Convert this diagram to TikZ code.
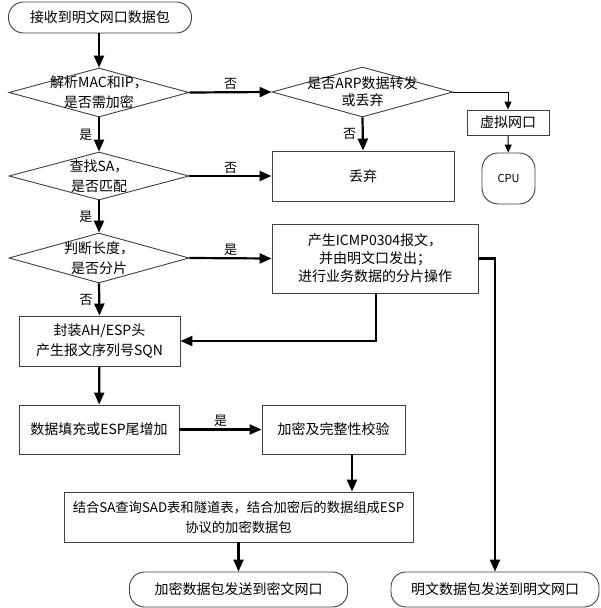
\documentclass[tikz,border=0pt]{standalone}
\usepackage{fontspec}
\setmainfont{Noto Sans CJK SC}
\usetikzlibrary{arrows.meta,shapes.geometric}
\begin{document}
\begin{tikzpicture}[x=1pt,y=-1pt,
  font=\fontsize{14}{20}\selectfont,
  box/.style={draw=black!75, line width=0.9pt, rectangle, inner sep=0pt, align=center},
  dia/.style={draw=black!75, line width=0.9pt, diamond, inner sep=0pt},
  term/.style={draw=black!75, line width=0.9pt, rectangle, rounded corners=15pt, inner sep=0pt, align=center},
  dtext/.style={inner sep=0pt, align=center},
  arr/.style={line width=2.2pt, -{Triangle[length=12pt,width=10pt]}},
  thinarr/.style={line width=0.9pt, -{Triangle[length=8pt,width=7pt]}},
  lbl/.style={inner sep=1.5pt, font=\fontsize{13}{15}\selectfont}]
\path[use as bounding box, fill=white] (0,0) rectangle (601,608);

% nodes
\node[term, minimum width=183, minimum height=31] (start) at (100,17.5) {接收到明文网口数据包};
\node[dia, minimum width=180, minimum height=49] (d1) at (99,92.5) {};
\node[dtext] at (d1) {解析MAC和IP，\\是否需加密};
\node[dia, minimum width=181, minimum height=50] (arp) at (362.5,92) {};
\node[dtext, font=\fontsize{14}{17}\selectfont] at (arp) {是否ARP数据转发\\或丢弃};
\node[box, minimum width=82, minimum height=25] (vport) at (508,122.5) {虚拟网口};
\node[term, rounded corners=16pt, minimum width=53, minimum height=51, font=\fontsize{11}{13}\selectfont] (cpu) at (508.5,178.5) {CPU};
\node[box, minimum width=182, minimum height=50] (drop) at (363,176) {丢弃};
\node[dia, minimum width=180, minimum height=48] (d2) at (99,176) {};
\node[dtext] at (d2) {查找SA，\\是否匹配};
\node[dia, minimum width=180, minimum height=50] (d3) at (99,258) {};
\node[dtext] at (d3) {判断长度，\\是否分片};
\node[box, minimum width=206, minimum height=69, font=\fontsize{14}{18}\selectfont] (icmp) at (375,258.5) {产生ICMP0304报文，\\并由明文口发出；\\进行业务数据的分片操作};
\node[box, minimum width=161, minimum height=50] (encap) at (99.5,341) {封装AH/ESP头\\产生报文序列号SQN};
\node[box, minimum width=160, minimum height=49] (pad) at (99,429.5) {数据填充或ESP尾增加};
\node[box, minimum width=143, minimum height=49] (enc) at (333.5,429.5) {加密及完整性校验};
\node[box, minimum width=349, minimum height=50, font=\fontsize{13.3}{20}\selectfont] (comb) at (238.5,517) {结合SA查询SAD表和隧道表，结合加密后的数据组成ESP\\协议的加密数据包};
\node[term, minimum width=218, minimum height=35] (endenc) at (238.5,589.5) {加密数据包发送到密文网口};
\node[term, minimum width=208, minimum height=35] (endplain) at (495,589.5) {明文数据包发送到明文网口};

% connectors
\draw[arr] (start.south -| d1.north) -- (d1.north);
\draw[arr] (d1.east) -- node[lbl, above] {否} (arp.west);
\draw[thinarr] (arp.east) -| (vport.north);
\draw[thinarr] (vport) -- (cpu);
\draw[arr] (arp.south) -- node[lbl, left=4pt] {否} (drop.north);
\draw[arr] (d1.south) -- node[lbl, left=4pt] {是} (d2.north);
\draw[arr] (d2.east) -- node[lbl, above] {否} (drop.west);
\draw[arr] (d2.south) -- node[lbl, left=4pt] {是} (d3.north);
\draw[arr] (d3.east) -- node[lbl, above] {是} (icmp.west);
\draw[arr] (d3.south) -- node[lbl, left=4pt] {否} (encap.north);
\draw[arr] ([xshift=1pt]icmp.south) |- (encap.east);
\draw[arr] (icmp.east) -| (endplain.north);
\draw[arr] (encap) -- (pad);
\draw[arr] (pad) -- node[lbl, above] {是} (enc);
\draw[arr] ([xshift=18.5pt]enc.south) -- ([xshift=18.5pt]enc.south |- comb.north);
\draw[arr] (comb) -- (endenc);
\end{tikzpicture}
\end{document}
